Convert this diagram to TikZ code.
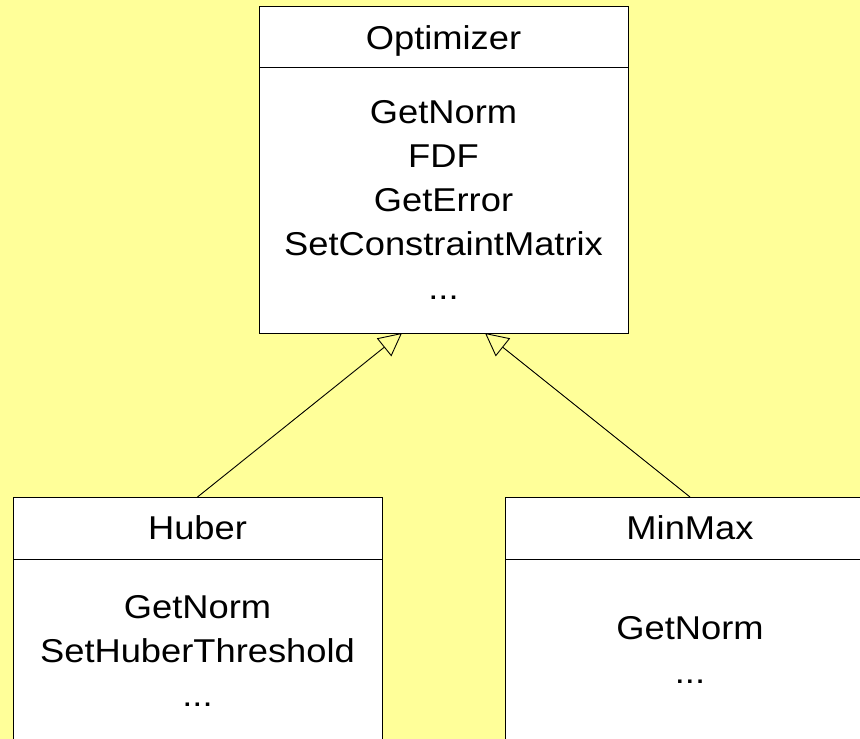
\documentclass[tikz,border=0pt]{standalone}
\usepackage{fontspec}
\setmainfont{Liberation Sans}[FakeStretch=1.1]
\usetikzlibrary{arrows.meta}
\definecolor{noteyellow}{HTML}{FFFF99}
\tikzset{
  classbox/.style={draw,fill=white,line width=1pt,minimum width=369pt,inner sep=0pt,outer sep=0pt},
  member/.style={anchor=base,inner sep=0pt},
  inherits/.style={line width=0.9pt,-{Triangle[open,length=23pt,width=23pt]}}
}
\begin{document}
\begin{tikzpicture}[x=1pt,y=-1pt,font=\fontsize{33}{44}\selectfont]
\useasboundingbox (0,0) rectangle (860,739);
\clip (0,0) rectangle (860,739);
\fill[noteyellow] (0,0) rectangle (860,739);
% classes
\node[classbox,minimum height=327pt] (opt) at (443.5,169.5) {};
\node[classbox,minimum height=303pt] (hub) at (197.5,648.5) {};
\node[classbox,minimum height=303pt] (mm) at (690,648.5) {};
\draw[line width=1pt] (opt.west |- 0,67) -- (opt.east |- 0,67);
\draw[line width=1pt] (hub.west |- 0,559) -- (hub.east |- 0,559);
\draw[line width=1pt] (mm.west |- 0,559) -- (mm.east |- 0,559);
% Optimizer
\node[member] (optname) at (443.5,49) {Optimizer};
\node[member] (optm1) at (443.5,123) {GetNorm};
\node[member] (optm2) at (443.5,167) {FDF};
\node[member] (optm3) at (443.5,211) {GetError};
\node[member] (optm4) at (443.5,255) {SetConstraintMatrix};
\node[member] (optm5) at (443.5,299) {...};
% Huber
\node[member] (hubname) at (197.5,539) {Huber};
\node[member] (hubm1) at (197.5,618) {GetNorm};
\node[member] (hubm2) at (197.5,662) {SetHuberThreshold};
\node[member] (hubm3) at (197.5,706) {...};
% MinMax
\node[member] (mmname) at (690,539) {MinMax};
\node[member] (mmm1) at (690,639) {GetNorm};
\node[member] (mmm2) at (690,683) {...};
% inheritance
\coordinate (optL) at ([xshift=-41.5pt]opt.south);
\coordinate (optR) at ([xshift=41.5pt]opt.south);
\draw[inherits] (hub.north) -- (optL);
\draw[inherits] (mm.north) -- (optR);
\end{tikzpicture}
\end{document}
